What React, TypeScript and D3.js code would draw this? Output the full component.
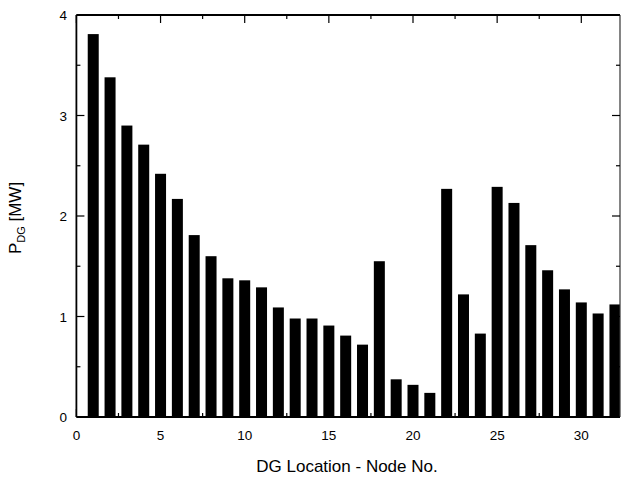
import React from "react";
import * as d3 from "d3";

const nodes = [1,2,3,4,5,6,7,8,9,10,11,12,13,14,15,16,17,18,19,20,21,22,23,24,25,26,27,28,29,30,31,32];
const pdg = [3.81,3.38,2.90,2.71,2.42,2.17,1.81,1.60,1.38,1.36,1.29,1.09,0.98,0.98,0.91,0.81,0.72,1.55,0.375,0.32,0.24,2.27,1.22,0.83,2.29,2.13,1.71,1.46,1.27,1.14,1.03,1.12];
const xMajor = [0,5,10,15,20,25,30];
const xMinor = [2.5,7.5,12.5,17.5,22.5,27.5];
const yMajor = [0,1,2,3,4];
const yMinor = [0.5,1.5,2.5,3.5];

const W = 622, H = 479;
const left = 76.4, right = 620, top = 15, bottom = 417;

export default function App() {
  const x = d3.scaleLinear().domain([0, (right - left) / 16.83]).range([left, right]);
  const y = d3.scaleLinear().domain([0, 4]).range([bottom, top]);
  const bw = 11;
  const font = "Arial, 'Liberation Sans', sans-serif";
  return (
    <svg width={W} height={H} style={{ position: "absolute", left: 0, top: 0 }} fontFamily={font}>
      <rect width={W} height={H} fill="#fff" />
      <defs>
        <clipPath id="plot">
          <rect x={left} y={top} width={right - left} height={bottom - top} />
        </clipPath>
      </defs>
      <g clipPath="url(#plot)">
        {nodes.map((n, i) => (
          <rect key={n} x={x(n) - bw / 2} y={y(pdg[i])} width={bw} height={y(0) - y(pdg[i])} fill="#000" />
        ))}
      </g>
      {/* frame */}
      <line x1={left} x2={right} y1={top} y2={top} stroke="#000" strokeWidth={1.8} />
      <line x1={left} x2={right} y1={bottom} y2={bottom} stroke="#000" strokeWidth={1.8} />
      <line x1={left} x2={left} y1={top} y2={bottom} stroke="#000" strokeWidth={1.8} />
      <line x1={right} x2={right} y1={top} y2={bottom} stroke="#333" strokeWidth={1.2} />
      {/* x ticks */}
      {xMajor.map((t) => (
        <g key={"xm" + t}>
          <line x1={x(t)} x2={x(t)} y1={bottom} y2={bottom - 8} stroke="#000" strokeWidth={1.2} />
          <line x1={x(t)} x2={x(t)} y1={top} y2={top + 8} stroke="#000" strokeWidth={1.2} />
          <text x={x(t)} y={440} textAnchor="middle" fontSize={13.5}>{t}</text>
        </g>
      ))}
      {xMinor.map((t) => (
        <g key={"xn" + t}>
          <line x1={x(t)} x2={x(t)} y1={bottom} y2={bottom - 4} stroke="#000" strokeWidth={1.2} />
          <line x1={x(t)} x2={x(t)} y1={top} y2={top + 4} stroke="#000" strokeWidth={1.2} />
        </g>
      ))}
      {yMajor.map((t) => (
        <g key={"ym" + t}>
          <line x1={left} x2={left + 8} y1={y(t)} y2={y(t)} stroke="#000" strokeWidth={1.2} />
          <line x1={right} x2={right - 8} y1={y(t)} y2={y(t)} stroke="#000" strokeWidth={1.2} />
          <text x={67} y={y(t) + 5} textAnchor="end" fontSize={13.5}>{t}</text>
        </g>
      ))}
      {yMinor.map((t) => (
        <g key={"yn" + t}>
          <line x1={left} x2={left + 4} y1={y(t)} y2={y(t)} stroke="#000" strokeWidth={1.2} />
          <line x1={right} x2={right - 4} y1={y(t)} y2={y(t)} stroke="#000" strokeWidth={1.2} />
        </g>
      ))}
      <text x={347} y={472} textAnchor="middle" fontSize={17}>DG Location - Node No.</text>
      <text transform="translate(21,218) rotate(-90)" textAnchor="middle" fontSize={17}>
        P<tspan fontSize={11} dy={4}>DG</tspan><tspan dy={-4}> [MW]</tspan>
      </text>
    </svg>
  );
}
